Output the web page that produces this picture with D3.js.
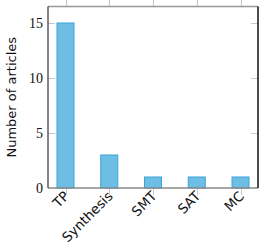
<!DOCTYPE html>
<html>
<head>
<meta charset="utf-8">
<script src="https://cdn.jsdelivr.net/npm/d3@7"></script>
<style>
  body { margin: 0; background: #fff; }
</style>
</head>
<body>
<div id="chart"></div>
<script>
const FRAME_WIDTH = 259;
const FRAME_HEIGHT = 244;

const MARGINS = {left: 48, right: 1, top: 6.5, bottom: 56};

const CATEGORIES = ["TP", "Synthesis", "SMT", "SAT", "MC"];
const COUNTS = [15, 3, 1, 1, 1];
const Y_TICKS = [0, 5, 10, 15];

const VIS_WIDTH = FRAME_WIDTH - MARGINS.left - MARGINS.right;
const VIS_HEIGHT = FRAME_HEIGHT - MARGINS.top - MARGINS.bottom;

const FRAME1 = d3.select("#chart")
  .append("svg")
  .attr("width", FRAME_WIDTH)
  .attr("height", FRAME_HEIGHT);

const X_SCALE = d3.scalePoint()
  .domain(CATEGORIES)
  .range([MARGINS.left, MARGINS.left + VIS_WIDTH])
  .padding(0.4);

const Y_SCALE = d3.scaleLinear()
  .domain([0, 16.5])
  .range([MARGINS.top + VIS_HEIGHT, MARGINS.top]);

const BAR_W = 17;
const bottom = Y_SCALE(0);
const right = MARGINS.left + VIS_WIDTH;

// tick marks (light gray)
const tickG = FRAME1.append("g").attr("stroke", "#c8c8c8").attr("stroke-width", 1);
CATEGORIES.forEach(c => {
  const x = Math.round(X_SCALE(c)) + 0.5;
  tickG.append("line").attr("x1", x).attr("x2", x).attr("y1", bottom).attr("y2", bottom + 7);
  tickG.append("line").attr("x1", x).attr("x2", x).attr("y1", MARGINS.top).attr("y2", 0);
});
Y_TICKS.slice(1).forEach(v => {
  const y = Math.round(Y_SCALE(v)) + 0.5;
  tickG.append("line").attr("x1", MARGINS.left).attr("x2", MARGINS.left + 7).attr("y1", y).attr("y2", y);
  tickG.append("line").attr("x1", right).attr("x2", right - 7).attr("y1", y).attr("y2", y);
});

// bars
FRAME1.selectAll("rect.bar")
  .data(CATEGORIES)
  .enter()
  .append("rect")
  .attr("class", "bar")
  .attr("x", (d) => X_SCALE(d) - BAR_W / 2)
  .attr("y", (d, i) => Y_SCALE(COUNTS[i]))
  .attr("width", BAR_W)
  .attr("height", (d, i) => bottom - Y_SCALE(COUNTS[i]))
  .attr("fill", "#6dbde5")
  .attr("stroke", "#3aa3d8")
  .attr("stroke-width", 1);

// frame
FRAME1.append("line").attr("x1", MARGINS.left).attr("x2", right)
  .attr("y1", MARGINS.top).attr("y2", MARGINS.top).attr("stroke", "#999").attr("stroke-width", 1.5);
FRAME1.append("line").attr("x1", MARGINS.left).attr("x2", right)
  .attr("y1", bottom).attr("y2", bottom).attr("stroke", "#888").attr("stroke-width", 1.5);
FRAME1.append("line").attr("x1", MARGINS.left).attr("x2", MARGINS.left)
  .attr("y1", MARGINS.top).attr("y2", bottom).attr("stroke", "#333").attr("stroke-width", 1.2);
FRAME1.append("line").attr("x1", right).attr("x2", right)
  .attr("y1", MARGINS.top).attr("y2", bottom).attr("stroke", "#111").attr("stroke-width", 1.5);

// y axis labels
const yAxis = d3.axisLeft(Y_SCALE).tickValues(Y_TICKS).tickSize(0).tickPadding(5);
const yG = FRAME1.append("g")
  .attr("transform", "translate(" + MARGINS.left + ",0)")
  .call(yAxis);
yG.select(".domain").remove();
yG.selectAll("text")
  .attr("font-family", "'Liberation Serif', serif")
  .attr("font-size", "14px")
  .attr("fill", "#111");

// x axis labels
const xAxis = d3.axisBottom(X_SCALE).tickSize(0).tickPadding(0);
const xG = FRAME1.append("g")
  .attr("transform", "translate(0," + bottom + ")")
  .call(xAxis);
xG.select(".domain").remove();
xG.selectAll("text")
  .attr("font-family", "'DejaVu Sans', sans-serif")
  .attr("font-size", "13.5px")
  .attr("fill", "#111")
  .attr("text-anchor", "end")
  .attr("dy", "0")
  .attr("transform", "translate(4,9) rotate(-45)");

FRAME1.append("text")
  .attr("transform", "translate(16," + (MARGINS.top + VIS_HEIGHT / 2) + ") rotate(-90)")
  .attr("text-anchor", "middle")
  .attr("font-family", "'DejaVu Sans', sans-serif")
  .attr("font-size", "13px")
  .attr("fill", "#111")
  .text("Number of articles");
</script>
</body>
</html>
